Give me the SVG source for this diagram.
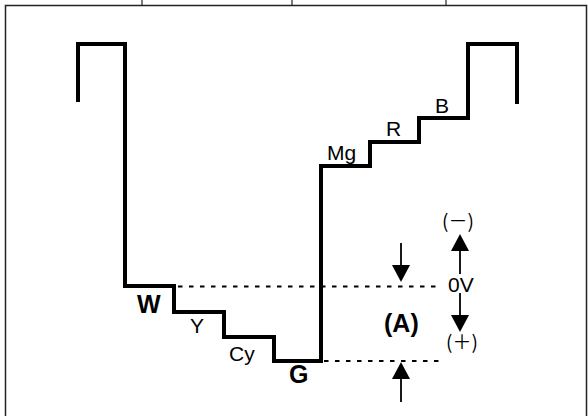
<svg xmlns="http://www.w3.org/2000/svg" width="588" height="416" viewBox="0 0 588 416">
<style>
.frame{fill:none;stroke:#222;stroke-width:1.5}
.tick{stroke:#222;stroke-width:1.2}
.wave{fill:none;stroke:#000;stroke-width:4;stroke-linejoin:miter;stroke-linecap:butt}
.dot{fill:none;stroke:#000;stroke-width:2;stroke-dasharray:4.5 6.5}
.arr{stroke:#000;stroke-width:1.8;marker-end:url(#head)}
.lbl{font-family:"Liberation Sans",Arial,sans-serif;font-size:21px;fill:#000}
.bold{font-family:"Liberation Sans",Arial,sans-serif;font-size:25px;font-weight:bold;fill:#000}
.jp{font-family:"Noto Sans CJK JP","DejaVu Sans",sans-serif;font-size:19px;fill:#000}
</style>
<defs>
<marker id="head" markerUnits="userSpaceOnUse" markerWidth="18" markerHeight="18" viewBox="0 0 17 18" refX="0" refY="9" orient="auto">
<path d="M0,0 L17,9 L0,18 Z" fill="#000"/>
</marker>
</defs>
<g id="frame">
<path class="frame" d="M5.5,420 V5.5 H586.5 V420"/>
<line class="tick" x1="142" y1="0" x2="142" y2="5.5"/>
<line class="tick" x1="292" y1="0" x2="292" y2="5.5"/>
<line class="tick" x1="446" y1="0" x2="446" y2="5.5"/>
</g>
<g id="waveform">
<path class="wave" d="M78,102 V44 H125 V286 H174 V312 H224 V337 H274 V361 H321 V166 H370 V142 H419 V118 H468 V44 H517 V104"/>
</g>
<g id="connectors">
<line class="dot" x1="178" y1="286.5" x2="437" y2="286.5"/>
<line class="dot" x1="324" y1="361" x2="440" y2="361"/>
<line class="arr" x1="460" y1="274" x2="460" y2="251"/>
<line class="arr" x1="460" y1="293" x2="460" y2="315"/>
<line class="arr" x1="401" y1="243" x2="401" y2="265"/>
<line class="arr" x1="401" y1="402" x2="401" y2="379"/>
</g>
<g id="labels">
<text class="bold" x="137" y="312.5">W</text>
<text class="lbl" x="190" y="333">Y</text>
<text class="lbl" x="229" y="361">Cy</text>
<text class="bold" x="289" y="383">G</text>
<text class="lbl" x="327" y="160">Mg</text>
<text class="lbl" x="386" y="136">R</text>
<text class="lbl" x="435" y="112.5">B</text>
<text class="bold" x="384" y="332">(A)</text>
<text class="jp" x="442" y="228">(－)</text>
<text class="lbl" x="448" y="292">0V</text>
<text class="jp" x="446" y="349">(＋)</text>
</g>
</svg>
